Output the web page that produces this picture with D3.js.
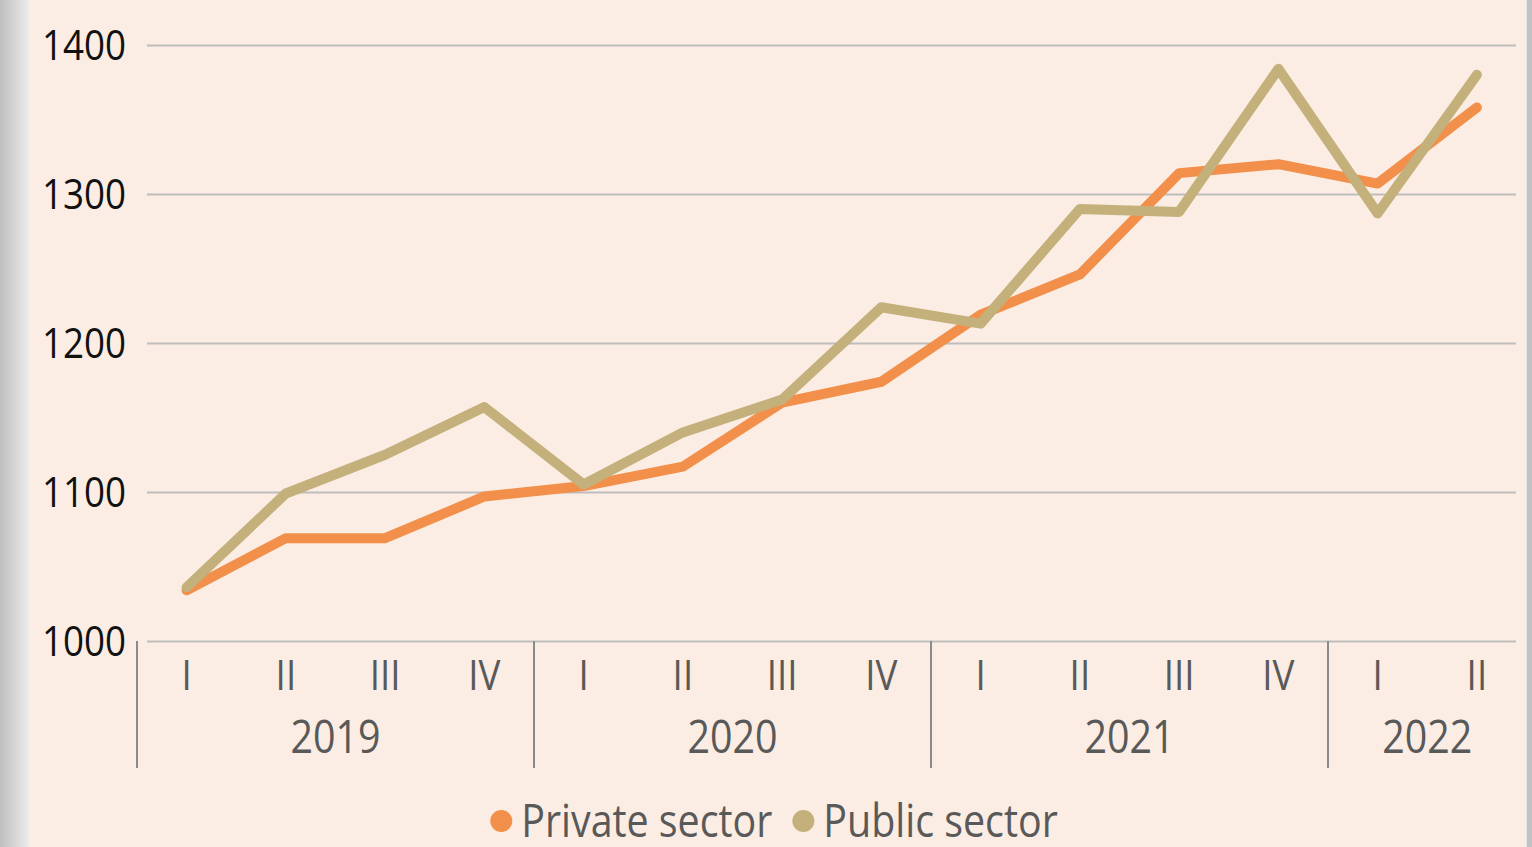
<!DOCTYPE html>
<html>
<head>
<meta charset="utf-8">
<script src="https://cdn.jsdelivr.net/npm/d3@7"></script>
<style>
  body { margin: 0; background: #fbede3; overflow: hidden; }
  text { font-family: "Open Sans", "Noto Sans", sans-serif; }
</style>
</head>
<body>
<div id="chart"></div>
<script>
var quarters = ["I", "II", "III", "IV", "I", "II", "III", "IV", "I", "II", "III", "IV", "I", "II"];
var years = ["2019", "2020", "2021", "2022"];
var quartersPerYear = [4, 4, 4, 2];
var privateSector = [1034, 1069, 1069, 1097, 1104, 1117, 1160, 1174, 1219, 1246, 1314, 1320, 1307, 1358];
var publicSector = [1036, 1099, 1125, 1157, 1105, 1140, 1162, 1224, 1213, 1290, 1288, 1384, 1287, 1380];
var yTicks = [1000, 1100, 1200, 1300, 1400];
var seriesNames = ["Private sector", "Public sector"];
var seriesColors = ["#f28f4a", "#c4b07b"];

var svgWidth = 1532;
var svgHeight = 847;
var squeeze = 0.875; // the source font is narrower than Open Sans

var svg = d3.select("#chart")
    .append("svg")
    .attr("width", svgWidth)
    .attr("height", svgHeight);

svg.append("rect")
    .attr("width", svgWidth)
    .attr("height", svgHeight)
    .attr("fill", "#fbede3");

// window frame on both sides
var grad = svg.append("defs").append("linearGradient").attr("id", "edge");
grad.append("stop").attr("offset", "0%").attr("stop-color", "#bebebe");
grad.append("stop").attr("offset", "90%").attr("stop-color", "#e8e8e8");
grad.append("stop").attr("offset", "100%").attr("stop-color", "#ededed");
svg.append("rect").attr("x", 0).attr("y", 0).attr("width", 29).attr("height", svgHeight).attr("fill", "url(#edge)");
svg.append("rect").attr("x", 1526).attr("y", 0).attr("width", 6).attr("height", svgHeight).attr("fill", "#c2c2c2");
svg.append("rect").attr("x", 1526).attr("y", 0).attr("width", 1).attr("height", svgHeight).attr("fill", "#e6e6e6");

var xScale = d3.scaleBand()
    .domain(d3.range(quarters.length))
    .range([137, 1526.5]);

var yScale = d3.scaleLinear()
    .domain([1000, 1400])
    .range([641, 45]);

var xc = i => xScale(i) + xScale.bandwidth() / 2;

// gridlines + value labels
var leftAxis = d3.axisLeft(yScale)
    .tickValues(yTicks)
    .tickFormat(d3.format("d"))
    .tickSize(-(1516 - 147))
    .tickPadding(21);

var yAxis = svg.append("g")
    .attr("transform", "translate(147,0)")
    .call(leftAxis);
yAxis.select(".domain").remove();
yAxis.selectAll("line").attr("stroke", "#bdbdbd").attr("stroke-width", 2);
yAxis.selectAll("text")
    .attr("x", -21 / squeeze)
    .attr("dy", "0.34em")
    .attr("transform", `scale(${squeeze},1)`)
    .attr("fill", "#111")
    .style("font-size", "42px");

// quarter labels
var bottomAxis = d3.axisBottom(xScale)
    .tickFormat(i => quarters[i])
    .tickSize(0);

var xAxis = svg.append("g")
    .attr("transform", "translate(0,641)")
    .call(bottomAxis);
xAxis.select(".domain").remove();
xAxis.selectAll("text")
    .attr("y", 49)
    .attr("dy", null)
    .attr("transform", `scale(${squeeze},1)`)
    .attr("fill", "#595959")
    .style("font-size", "42px");

// year groups
var starts = [];
var acc = 0;
quartersPerYear.forEach(function(n) { starts.push(acc); acc += n; });

svg.selectAll(".sep")
    .data(starts)
    .enter()
    .append("line")
    .attr("x1", d => xScale(d))
    .attr("x2", d => xScale(d))
    .attr("y1", 641)
    .attr("y2", 768)
    .attr("stroke", "#8a8a8a")
    .attr("stroke-width", 2);

svg.selectAll(".year")
    .data(years)
    .enter()
    .append("text")
    .attr("transform", function(d, i) {
        var cx = (xc(starts[i]) + xc(starts[i] + quartersPerYear[i] - 1)) / 2;
        return `translate(${cx},753) scale(${squeeze},1)`;
    })
    .attr("text-anchor", "middle")
    .attr("fill", "#595959")
    .style("font-size", "45px")
    .text(d => d);

// lines
var line = d3.line()
    .x((d, i) => xc(i))
    .y(d => yScale(d));

[privateSector, publicSector].forEach(function(values, k) {
    svg.append("path")
        .datum(values)
        .attr("d", line)
        .attr("fill", "none")
        .attr("stroke", seriesColors[k])
        .attr("stroke-width", 10)
        .attr("stroke-linejoin", "round")
        .attr("stroke-linecap", "round");
});

// legend
var legend = svg.append("g");
var lx = 0;
seriesNames.forEach(function(name, k) {
    legend.append("circle")
        .attr("cx", lx + 11)
        .attr("cy", 821)
        .attr("r", 11)
        .attr("fill", seriesColors[k]);
    var t = legend.append("text")
        .attr("transform", `translate(${lx + 31},837) scale(${squeeze},1)`)
        .attr("fill", "#595959")
        .style("font-size", "45px")
        .text(name);
    lx += 31 + t.node().getComputedTextLength() * squeeze + 20;
});
var legendWidth = lx - 20;
legend.attr("transform", `translate(${774 - legendWidth / 2},0)`);
</script>
</body>
</html>
